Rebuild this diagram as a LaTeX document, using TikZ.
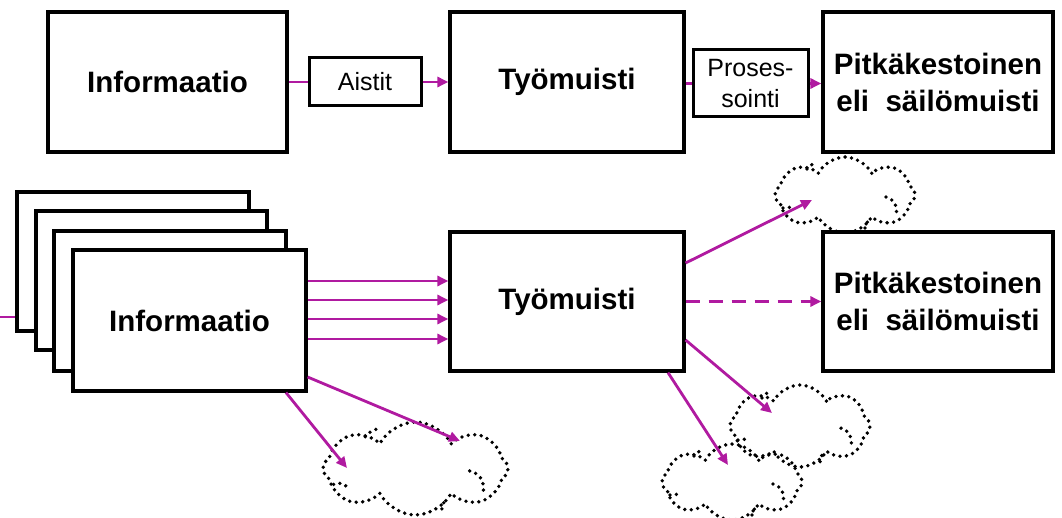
\documentclass[tikz,border=0pt]{standalone}
\usepackage{fontspec}
\setmainfont{Liberation Sans}
\usetikzlibrary{arrows.meta,shapes.symbols,calc}
\definecolor{arrowmag}{RGB}{176,26,160}

% small inner curls of a cloud, drawn for a 140 x 76 cloud and scaled
\newcommand{\cloudcurls}[3]{%
  \begin{scope}[shift={(#1.center)},xscale=#2/140,yscale=#3/76]
    \draw[curl] (41,2) .. controls (49,4) and (53,11) .. (51,21);
    \draw[curl] (-62,13) .. controls (-58,11) and (-54,12) .. (-52,15);
    \draw[curl] (20,33) .. controls (20,29) and (22,26) .. (25,25);
    \draw[curl] (-38,-26) .. controls (-36,-29) and (-33,-31) .. (-30,-32);
  \end{scope}}

\begin{document}
\begin{tikzpicture}[x=1pt,y=-1pt,
  box/.style={draw=black,line width=3.2pt,fill=white,inner sep=0pt,align=center,
    font=\fontsize{29.5}{37}\selectfont\bfseries},
  smallbox/.style={draw=black,line width=3pt,fill=white,inner sep=0pt,align=center,
    font=\fontsize{25}{31}\selectfont},
  link/.style={draw=arrowmag,line width=2.8pt},
  arr/.style={link,-{Triangle[length=11pt,width=10pt]}},
  dots/.style={draw=black,line width=3.8pt,dash pattern=on 0pt off 6.5pt,line cap=round},
  curl/.style={dots},
  cloudline/.style={cloud,cloud puffs=8,cloud puff arc=125,dots,inner sep=0pt}]

\useasboundingbox (0,0) rectangle (1062,518);

% --- upper chain
\node[box,minimum width=239,minimum height=140] (info) at (167.5,82) {Informaatio};
\node[smallbox,minimum width=112,minimum height=48] (aistit) at (365,82) {Aistit};
\node[box,minimum width=234,minimum height=140] (tyo) at (567,82) {Työmuisti};
\node[smallbox,minimum width=115,minimum height=67] (proses) at (750.5,83.5) {Proses-\\sointi};
\node[box,minimum width=230,minimum height=140] (pitka) at (938,82) {Pitkäkestoinen\\eli\ \ säilömuisti};

\draw[link] (info.east |- aistit.west) -- (aistit.west);
\draw[arr] (aistit.east) -- (tyo.west |- aistit.east);
\draw[link] (tyo.east |- proses.west) -- (proses.west);
\draw[arr] (proses.east) -- (pitka.west |- proses.east);

% --- clouds
\node[cloudline,minimum width=185,minimum height=93] (c1) at (415.5,468.5) {};
\node[cloudline,minimum width=140,minimum height=76] (c2) at (845,195) {};
\node[cloudline,minimum width=140,minimum height=82] (c3) at (800,426) {};
\node[cloudline,minimum width=140,minimum height=76] (c4) at (732,482) {};
\cloudcurls{c1}{185}{93}
\cloudcurls{c2}{140}{76}
\cloudcurls{c3}{140}{82}
\cloudcurls{c4}{140}{76}

% --- stacked information cards
\coordinate (src) at (0,317);
\node[box,minimum width=232,minimum height=139] (s1) at (133,261.5) {};
\draw[link] (src) -- (src -| s1.west);
\node[box,minimum width=231,minimum height=139] (s2) at (151.5,280.5) {};
\node[box,minimum width=232,minimum height=140] (s3) at (170,301) {};
\node[box,minimum width=233,minimum height=141] (info2) at (189.5,320.5) {Informaatio};

\node[box,minimum width=234,minimum height=139] (tyo2) at (567,301.5) {Työmuisti};
\node[box,minimum width=230,minimum height=139] (pitka2) at (938,301.5) {Pitkäkestoinen\\eli\ \ säilömuisti};

% parallel channels
\foreach \yy in {281,300,319,339}{
  \coordinate (ch) at (0,\yy);
  \draw[arr] (ch -| info2.east) -- (ch -| tyo2.west);
}

% transfer to long-term memory
\draw[arr,dash pattern=on 14pt off 9pt] (tyo2.east) -- (pitka2.west);

% losses into the clouds
\coordinate (a1) at (0,377);   \coordinate (e1) at (460,441);
\coordinate (a2) at (286,0);   \coordinate (e2) at (347,468);
\coordinate (a3) at (0,263);   \coordinate (e3) at (812,200);
\coordinate (a4) at (0,340);   \coordinate (e4) at (772,413);
\coordinate (a5) at (668,0);   \coordinate (e5) at (728,465);

\draw[arr] (a1 -| info2.east) -- (e1);
\draw[arr] (a2 |- info2.south) -- (e2);
\draw[arr] (a3 -| tyo2.east) -- (e3);
\draw[arr] (a4 -| tyo2.east) -- (e4);
\draw[arr] (a5 |- tyo2.south) -- (e5);

\end{tikzpicture}
\end{document}
